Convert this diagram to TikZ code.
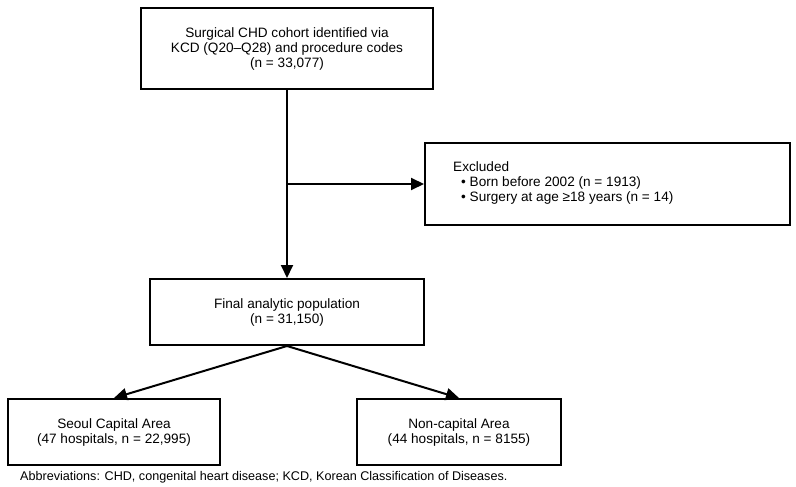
\documentclass[tikz,border=0pt]{standalone}
\usepackage{fontspec}
\setmainfont{Liberation Sans}
\usetikzlibrary{arrows.meta}
\begin{document}
\begin{tikzpicture}[x=1pt,y=-1pt,
  box/.style={draw,line width=2pt,inner sep=0pt,align=center,font=\fontsize{13.6}{15}\selectfont},
  conn/.style={line width=2pt,-{Triangle[length=13pt,width=12pt]}}]
\useasboundingbox (0,0) rectangle (796,487);
\node[box,minimum width=292pt,minimum height=81pt] (cohort) at (287,48.5)
  {Surgical CHD cohort identified via\\KCD (Q20--Q28) and procedure codes\\(n = 33,077)};
\node[box,minimum width=365pt,minimum height=82pt] (excl) at (607.5,184) {};
\node[anchor=west,align=left,inner sep=0pt,font=\fontsize{13.6}{15}\selectfont] (excltext) at (453,183)
  {Excluded\\\hspace{8pt}\textbullet\ Born before 2002 (n = 1913)\\\hspace{8pt}\textbullet\ Surgery at age ≥18 years (n = 14)};
\node[box,minimum width=274pt,minimum height=66pt] (final) at (287,312)
  {Final analytic population\\(n = 31,150)};
\node[box,minimum width=212pt,minimum height=66pt] (seoul) at (114,432)
  {Seoul Capital Area\\(47 hospitals, n = 22,995)};
\node[box,minimum width=204pt,minimum height=66pt] (noncap) at (459,432)
  {Non-capital Area\\(44 hospitals, n = 8155)};
\node[anchor=west,inner sep=0pt,font=\fontsize{12.6}{14}\selectfont] (abbr) at (20,477)
  {Abbreviations: CHD, congenital heart disease; KCD, Korean Classification of Diseases.};
\coordinate (split) at (cohort.south |- excl.west);
\draw[conn] (cohort.south) -- (final.north);
\draw[conn] (split) -- (excl.west);
\draw[conn] (final.south) -- (seoul.north);
\draw[conn] (final.south) -- (noncap.north);
\end{tikzpicture}
\end{document}
